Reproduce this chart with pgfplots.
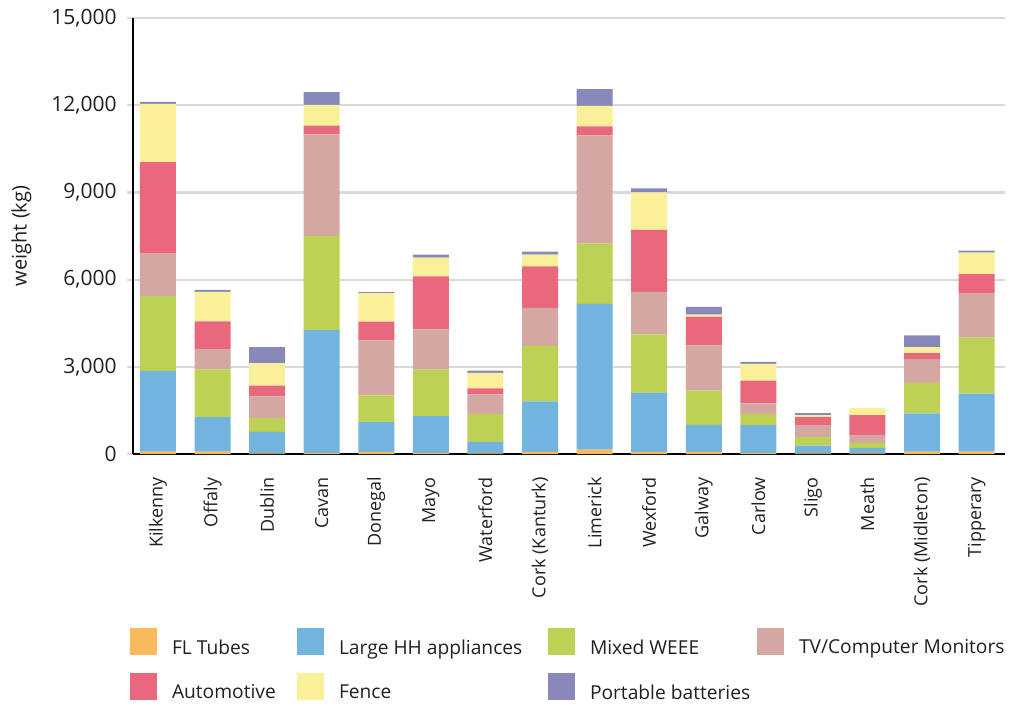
\documentclass[border=0pt]{standalone}
\usepackage{pgfplots}
\usepackage{pgfplotstable}
\usepackage{fontspec}
\setmainfont{Open Sans}
\pgfplotsset{compat=1.18}

\definecolor{cFL}{HTML}{F9BA5B}
\definecolor{cLHH}{HTML}{72B4DE}
\definecolor{cMix}{HTML}{BDD155}
\definecolor{cTV}{HTML}{D4A7A2}
\definecolor{cAuto}{HTML}{E9687E}
\definecolor{cFence}{HTML}{FAF099}
\definecolor{cBatt}{HTML}{8888BB}
\definecolor{txt}{HTML}{231F20}
\definecolor{grd}{HTML}{D9D9D9}

% weight (kg) per collection point
\pgfplotstableread{
x  FL   LHH   Mixed TV   Auto Fence Batt
0  80   2780  2575  1460 3150 2000  70
1  80   1190  1640  700  950  1015  70
2  20   740   475   745  370  780   545
3  30   4230  3245  3490 305  710   440
4  70   1025  925   1885 645  985   35
5  30   1270  1605  1380 1830 645   100
6  20   400   950   680  205  540   70
7  70   1740  1910  1310 1425 405   100
8  150  5015  2070  3730 305  710   575
9  70   2045  2000  1460 2135 1290  135
10 70   935   1175  1560 985  70    270
11 30   965   375   375  780  575   70
12 20   265   305   405  270  70    70
13 20   195   170   270  680  240   0
14 80   1320  1050  815  205  205   405
15 80   2000  1925  1535 645  745   70
}\wastedata

\begin{document}
\begin{tikzpicture}
\begin{axis}[
  at={(0,0)}, anchor=south west,
  scale only axis,
  width=436pt, height=218pt,
  ybar stacked, bar width=18pt,
  xmin=-0.458, xmax=15.52,
  ymin=0, ymax=15000,
  ytick={0,3000,6000,9000,12000,15000},
  scaled y ticks=false,
  xtick={0,...,15},
  xticklabels={Kilkenny, Offaly, Dublin, Cavan, Donegal, Mayo, Waterford,
    Cork (Kanturk), Limerick, Wexford, Galway, Carlow, Sligo, Meath,
    Cork (Midleton), Tipperary},
  axis x line*=bottom, axis y line*=left,
  axis line style={-, line width=1.3pt, black},
  ymajorgrids, grid style={draw=grd, line width=1.1pt},
  xtick style={draw=none},
  ytick style={draw=grd, line width=1.1pt},
  major tick length=3pt, tick align=outside,
  yticklabel style={/pgf/number format/1000 sep={,},
    /pgf/number format/assume math mode=true,
    font=\fontsize{10.5}{12}\selectfont, text=txt, inner sep=0pt, xshift=-5pt},
  xticklabel style={rotate=90, anchor=east, inner sep=0pt, font=\fontsize{9}{11}\selectfont, text=txt},
  xticklabel shift=8.5pt,
  ylabel={weight (kg)},
  ylabel style={at={(axis description cs:-0.128,0.5)}, anchor=center, font=\fontsize{10}{12}\selectfont, text=txt},
  legend columns=4,
  legend cell align=left,
  legend style={at={(-0.00344,-0.399)}, anchor=north west, draw=none, fill=none,
    inner sep=0pt, outer sep=0pt, row sep=8pt, column sep=0pt,
    nodes={inner sep=0pt, font=\fontsize{9.6}{11}\selectfont, text=txt}},
  sw/.style={legend image code/.code={\fill[##1] (0pt,-3.35pt) rectangle (13.5pt,10.15pt); \path (21pt,0pt);}},
]
\addplot[fill=cFL, draw=none, sw] table[x=x, y=FL]{\wastedata};
\addlegendentry{\makebox[62.5pt][l]{FL Tubes}}
\addplot[fill=cLHH, draw=none, sw] table[x=x, y=LHH]{\wastedata};
\addlegendentry{\makebox[104.5pt][l]{Large HH appliances}}
\addplot[fill=cMix, draw=none, sw] table[x=x, y=Mixed]{\wastedata};
\addlegendentry{\makebox[83.5pt][l]{Mixed WEEE}}
\addplot[fill=cTV, draw=none, sw] table[x=x, y=TV]{\wastedata};
\addlegendentry{TV/Computer Monitors}
\addplot[fill=cAuto, draw=none, sw] table[x=x, y=Auto]{\wastedata};
\addlegendentry{Automotive}
\addplot[fill=cFence, draw=none, sw] table[x=x, y=Fence]{\wastedata};
\addlegendentry{Fence}
\addplot[fill=cBatt, draw=none, sw] table[x=x, y=Batt]{\wastedata};
\addlegendentry{Portable batteries}
\end{axis}
\pgfresetboundingbox
\useasboundingbox (-66.5pt,-126pt) rectangle (439pt,227pt);
\end{tikzpicture}
\end{document}
